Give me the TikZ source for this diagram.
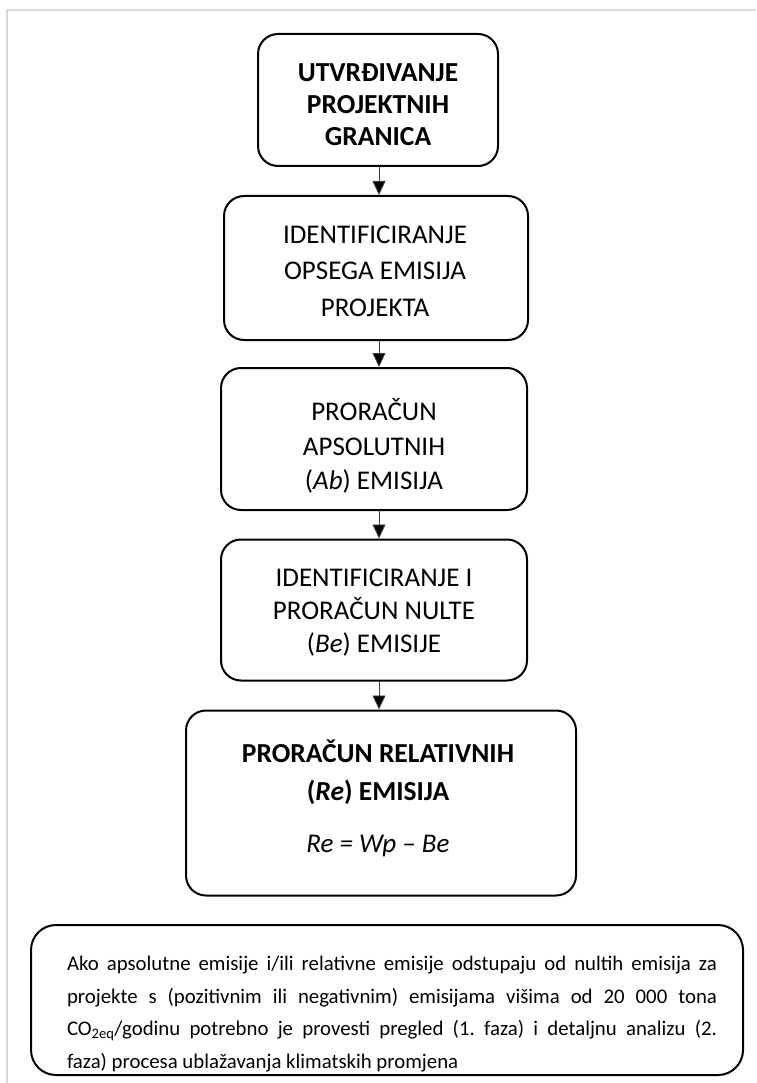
\documentclass[tikz,border=0pt]{standalone}
\usepackage{fontspec}
\setmainfont{Carlito}
\usetikzlibrary{arrows.meta}
\begin{document}
\frenchspacing
\begin{tikzpicture}[x=1pt,y=-1pt,
  box/.style={draw=black,line width=2pt,rounded corners=20pt,inner sep=0pt},
  txt/.style={align=center,inner sep=0pt},
  arr/.style={draw=black!75,line width=0.9pt,-{Triangle[width=13pt,length=14pt,fill=black]}},
  frame/.style={draw=black!15,line width=2pt}]
\useasboundingbox (0,0) rectangle (756,1083);
\draw[frame] (7,1083) -- (7,10) -- (756,10);
\node[box,minimum width=240pt,minimum height=132pt] (b1) at (378,100) {};
\node[txt,font=\fontsize{27.5}{32}\bfseries] (t1) at (378,105) {UTVRĐIVANJE\\PROJEKTNIH\\GRANICA};
\node[box,minimum width=304pt,minimum height=144pt] (b2) at (376,268) {};
\node[txt,font=\fontsize{27}{36.5}\selectfont] (t2) at (375,271) {IDENTIFICIRANJE\\OPSEGA EMISIJA\\PROJEKTA};
\node[box,minimum width=306pt,minimum height=142pt] (b3) at (374,439) {};
\node[txt,font=\fontsize{27}{34.5}\selectfont] (t3) at (374,446) {PRORAČUN\\APSOLUTNIH\\(\textit{Ab}) EMISIJA};
\node[box,minimum width=306pt,minimum height=141pt] (b4) at (374,610) {};
\node[txt,font=\fontsize{27}{33}\selectfont] (t4) at (374,613) {IDENTIFICIRANJE I\\PRORAČUN NULTE\\(\textit{Be}) EMISIJE};
\node[box,minimum width=390pt,minimum height=185pt] (b5) at (381,803) {};
\node[txt,font=\fontsize{27.5}{38}\selectfont] (t5) at (378,798) {\textbf{PRORAČUN RELATIVNIH}\\\textbf{(\textit{Re}) EMISIJA}\\[14pt]{\fontsize{27}{38}\selectfont\textit{Re = Wp – Be}}};
\node[box,rounded corners=25pt,minimum width=712pt,minimum height=150pt] (b6) at (387,1000) {};
\node[txt] (t6) at (392,1014) {\parbox{650pt}{\fontsize{20.8}{32.6}\selectfont\hbadness=10000 Ako apsolutne emisije i/ili relativne emisije odstupaju od nultih emisija za\linebreak projekte s (pozitivnim ili negativnim) emisijama višima od 20 000 tona\linebreak CO\textsubscript{2eq}/godinu potrebno je provesti pregled (1. faza) i detaljnu analizu (2.\linebreak faza) procesa ublažavanja klimatskih promjena}};
\draw[arr] (379,166) coordinate (a1) -- (a1 |- b2.north);
\draw[arr] (379,340) coordinate (a2) -- (a2 |- b3.north);
\draw[arr] (379,510) coordinate (a3) -- (a3 |- b4.north);
\draw[arr] (379,681) coordinate (a4) -- (a4 |- b5.north);
\end{tikzpicture}
\end{document}
